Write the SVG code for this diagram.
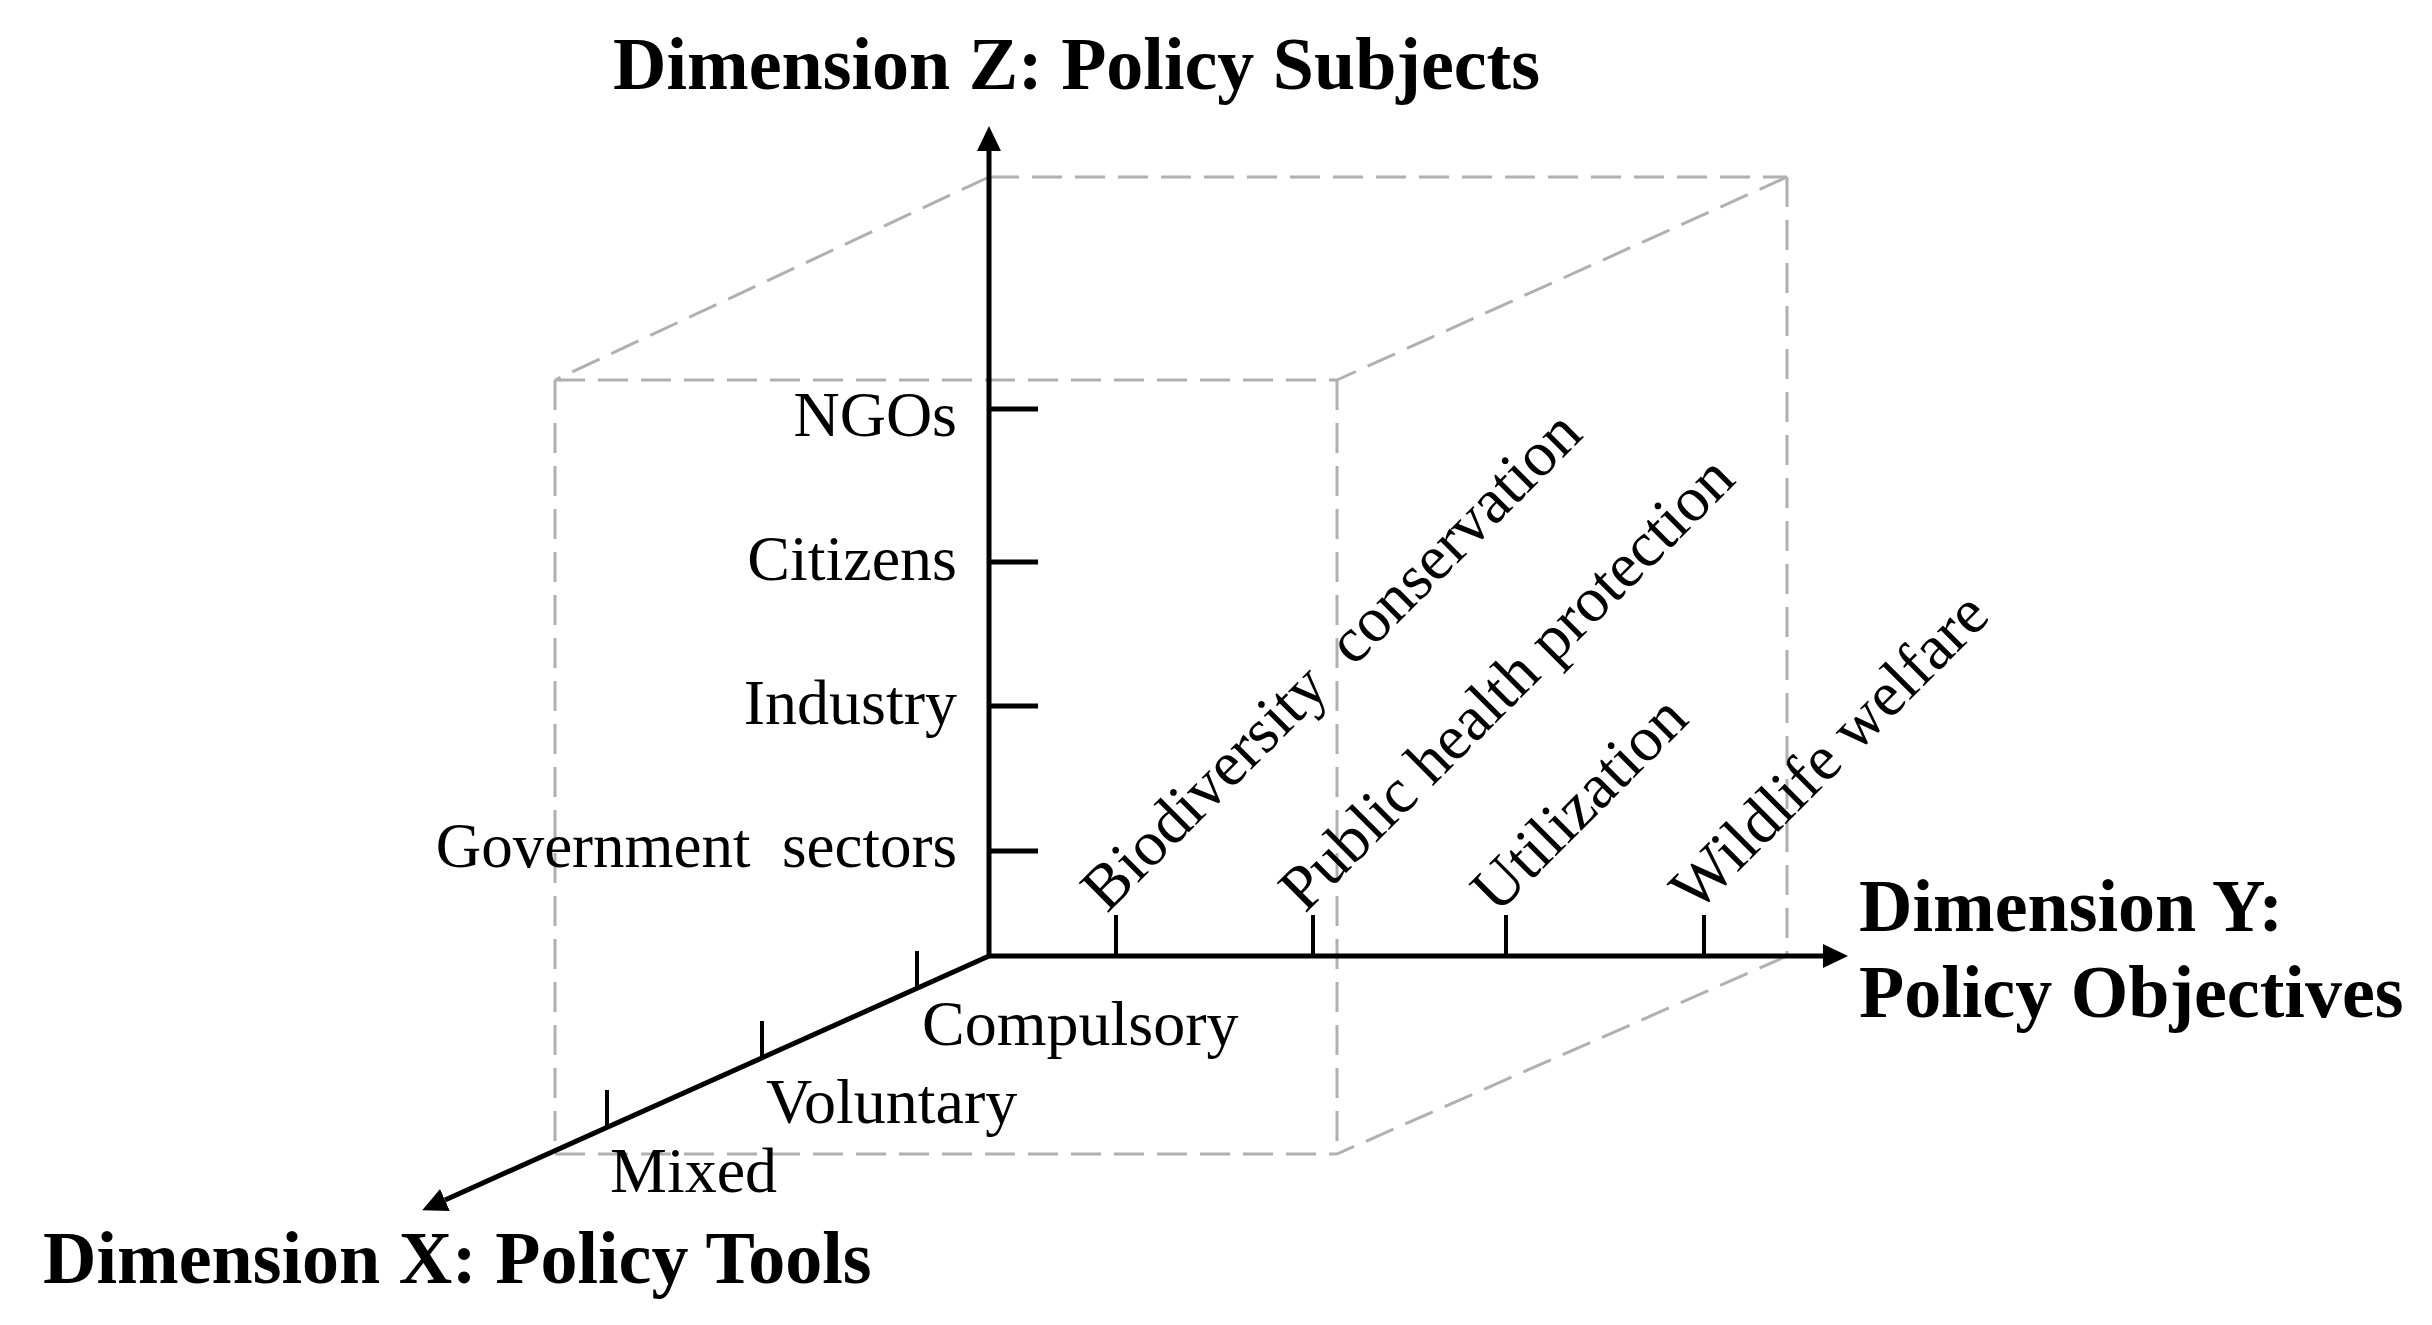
<svg xmlns="http://www.w3.org/2000/svg" width="2432" height="1325" viewBox="0 0 2432 1325">
  <style>
    .dash { stroke: #b0b0b0; stroke-width: 3; stroke-dasharray: 30 13; fill: none; }
    .axis { stroke: #000; stroke-width: 5; fill: none; }
    .tick { stroke: #000; stroke-width: 5; }
    .tickthin { stroke: #000; stroke-width: 4; }
    .lbl { font-family: "Liberation Serif", "Times New Roman", serif; font-size: 64px; fill: #000; }
    .title { font-family: "Liberation Serif", "Times New Roman", serif; font-size: 74px; font-weight: bold; fill: #000; }
  </style>
  <defs>
    <marker id="arrow" viewBox="0 0 25 24" refX="0" refY="12" markerWidth="25" markerHeight="24" markerUnits="userSpaceOnUse" orient="auto">
      <path d="M0,0 L25,12 L0,24 Z" fill="#000"/>
    </marker>
  </defs>
  <rect width="2432" height="1325" fill="#fff"/>

  <g id="cube">
    <line class="dash" x1="989" y1="177" x2="1787" y2="177"/>
    <line class="dash" x1="1787" y1="177" x2="1787" y2="956"/>
    <line class="dash" x1="989" y1="177" x2="555" y2="380"/>
    <line class="dash" x1="1787" y1="177" x2="1337" y2="380"/>
    <line class="dash" x1="1787" y1="956" x2="1337" y2="1154"/>
    <line class="dash" x1="555" y1="380" x2="1337" y2="380"/>
    <line class="dash" x1="555" y1="380" x2="555" y2="1154"/>
    <line class="dash" x1="1337" y1="380" x2="1337" y2="1154"/>
    <line class="dash" x1="555" y1="1154" x2="1337" y2="1154"/>
  </g>

  <g id="connectors">
    <line id="axis-z" class="axis" x1="989" y1="958" x2="989" y2="151" marker-end="url(#arrow)"/>
    <line id="axis-y" class="axis" x1="987" y1="956" x2="1823" y2="956" marker-end="url(#arrow)"/>
    <line id="axis-x" class="axis" x1="989" y1="956" x2="445" y2="1200" marker-end="url(#arrow)"/>
  </g>

  <g id="z-ticks">
    <line class="tick" x1="989" y1="409" x2="1038" y2="409"/>
    <line class="tick" x1="989" y1="562" x2="1038" y2="562"/>
    <line class="tick" x1="989" y1="706" x2="1038" y2="706"/>
    <line class="tick" x1="989" y1="851" x2="1038" y2="851"/>
  </g>
  <g id="y-ticks">
    <line class="tickthin" x1="1116" y1="915" x2="1116" y2="956"/>
    <line class="tickthin" x1="1313" y1="915" x2="1313" y2="956"/>
    <line class="tickthin" x1="1506" y1="915" x2="1506" y2="956"/>
    <line class="tickthin" x1="1704" y1="915" x2="1704" y2="956"/>
  </g>
  <g id="x-ticks">
    <line class="tickthin" x1="917" y1="951" x2="917" y2="989"/>
    <line class="tickthin" x1="762" y1="1021" x2="762" y2="1058"/>
    <line class="tickthin" x1="607" y1="1090" x2="607" y2="1128"/>
  </g>

  <g id="title-z"><text class="title" x="613" y="89">Dimension Z: Policy Subjects</text></g>
  <g id="title-y">
    <text class="title" x="1859" y="931">Dimension Y:</text>
    <text class="title" x="1859" y="1017">Policy Objectives</text>
  </g>
  <g id="title-x"><text class="title" x="43" y="1283">Dimension X: Policy Tools</text></g>

  <g id="z-labels" text-anchor="end">
    <text class="lbl" x="957" y="436">NGOs</text>
    <text class="lbl" x="957" y="580">Citizens</text>
    <text class="lbl" x="957" y="724">Industry</text>
    <text class="lbl" x="957" y="867" font-size="63" style="font-size:63px;white-space:pre" xml:space="preserve">Government  sectors</text>
  </g>

  <g id="y-labels">
    <text class="lbl" transform="translate(1107,914) rotate(-45)" xml:space="preserve" style="white-space:pre">Biodiversity  conservation</text>
    <text class="lbl" transform="translate(1305,914) rotate(-45)">Public health protection</text>
    <text class="lbl" transform="translate(1497,915) rotate(-45)">Utilization</text>
    <text class="lbl" transform="translate(1696,914) rotate(-45)">Wildlife welfare</text>
  </g>

  <g id="x-labels">
    <text class="lbl" x="922" y="1045">Compulsory</text>
    <text class="lbl" x="766" y="1123">Voluntary</text>
    <text class="lbl" x="610" y="1192">Mixed</text>
  </g>
</svg>
